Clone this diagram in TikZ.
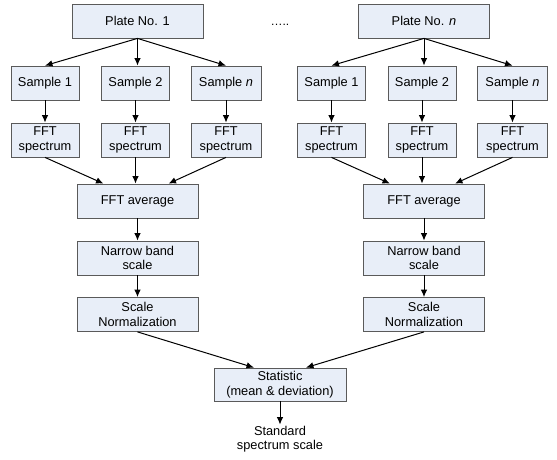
\documentclass[tikz,border=0pt]{standalone}
\usepackage{fontspec}
\setmainfont{Liberation Sans}
\usetikzlibrary{arrows.meta, positioning}
\definecolor{boxfill}{RGB}{232,238,248}
\definecolor{boxline}{RGB}{90,90,90}

\begin{document}
\begin{tikzpicture}[x=1pt, y=-1pt,
    box/.style={draw=boxline, fill=boxfill, line width=0.8pt, minimum height=34pt,
      align=center, inner sep=1pt, font=\fontsize{12.8}{14.5}\selectfont},
    arr/.style={-{Latex[length=7.5pt, width=6.5pt]}, line width=1pt}]
  \useasboundingbox (0,0) rectangle (557,460);

  \foreach \b/\x/\p in {L/0/1, R/286.5/\textit{n}}{
    \node[box, minimum width=131pt] (plate\b) at (137.5+\x,21) {Plate No. \p};

    \node[box, minimum width=68pt] (sample\b1) at (45+\x,83) {Sample 1};
    \node[box, minimum width=68pt] (sample\b2) at (135.5+\x,83) {Sample 2};
    \node[box, minimum width=70pt] (sample\b3) at (226+\x,83) {Sample \textit{n}};

    \node[box, minimum width=68pt] (fft\b1) at (45+\x,140) {FFT\\spectrum};
    \node[box, minimum width=68pt] (fft\b2) at (135.5+\x,140) {FFT\\spectrum};
    \node[box, minimum width=70pt] (fft\b3) at (226+\x,140) {FFT\\spectrum};

    \node[box, minimum width=121pt] (avg\b) at (137.5+\x,201) {FFT average};
    \node[box, minimum width=121pt] (band\b) at (137.5+\x,258) {Narrow band\\scale};
    \node[box, minimum width=121pt] (norm\b) at (137.5+\x,314.5) {Scale\\Normalization};

    \draw[arr] (plate\b.south) -- (sample\b1.north);
    \draw[arr] (plate\b.south) -- (plate\b.south |- sample\b2.north);
    \draw[arr] (plate\b.south) -- (sample\b3.north);

    \draw[arr] (sample\b1) -- (fft\b1);
    \draw[arr] (sample\b2) -- (fft\b2);
    \draw[arr] (sample\b3) -- (fft\b3);

    \draw[arr] (fft\b1.south) -- ([xshift=-34pt]avg\b.north);
    \draw[arr] (fft\b2.south) -- (fft\b2.south |- avg\b.north);
    \draw[arr] (fft\b3.south) -- ([xshift=31pt]avg\b.north);

    \draw[arr] (avg\b) -- (band\b);
    \draw[arr] (band\b) -- (norm\b);
  }

  \node[anchor=base west, font=\fontsize{12}{14}\selectfont] (dots) at (267,26) {…..};

  \node[box, minimum width=132pt, minimum height=33pt] (stat) at (280,384.5) {Statistic\\(mean \& deviation)};
  \node[align=center, inner sep=1pt, font=\fontsize{12.8}{14.5}\selectfont] (std) at (280,439) {Standard\\spectrum scale};

  \draw[arr] (normL.south) -- ([xshift=-26pt]stat.north);
  \draw[arr] (normR.south) -- ([xshift=26pt]stat.north);
  \draw[arr] (stat) -- (std);
\end{tikzpicture}
\end{document}
